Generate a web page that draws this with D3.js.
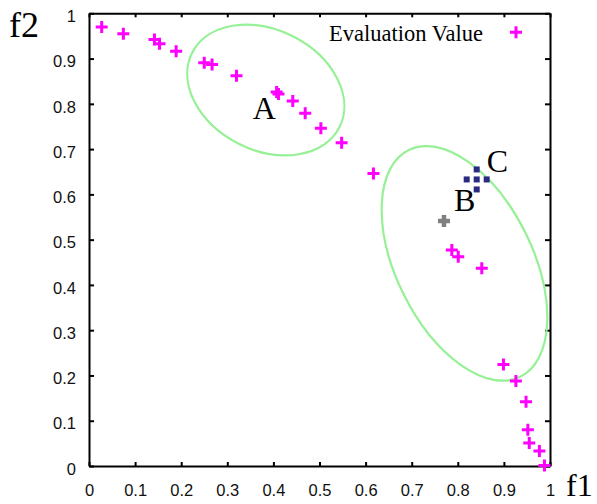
<!DOCTYPE html>
<html>
<head>
<meta charset="utf-8">
<script src="https://cdn.jsdelivr.net/npm/d3@7"></script>
<style>
  body { margin: 0; background: #fff; }
  svg { display: block; }
  .tick text { font-family: "Liberation Sans", Arial, sans-serif; font-size: 16.5px; fill: #111; }
  .serif { font-family: "Liberation Serif", "Times New Roman", serif; fill: #000; }
</style>
</head>
<body>
<svg id="chart" width="597" height="504"></svg>
<script>
// Evaluation values (f1, f2)
const evalF1 = [0.0275, 0.0745, 0.142, 0.153, 0.189, 0.250, 0.267, 0.320, 0.407, 0.411,
                0.442, 0.469, 0.503, 0.548, 0.617, 0.787, 0.801, 0.852, 0.899, 0.926,
                0.948, 0.952, 0.955, 0.977, 0.988];
const evalF2 = [0.970, 0.955, 0.942, 0.933, 0.916, 0.891, 0.887, 0.862, 0.826, 0.822,
                0.806, 0.779, 0.746, 0.714, 0.646, 0.477, 0.462, 0.437, 0.224, 0.188,
                0.142, 0.080, 0.051, 0.033, 0.001];

// highlighted solutions
const pointB = [0.770, 0.541];
const pointC = [0.841, 0.633];

// clusters (centre f1, f2; semi axes; tilt in degrees)
const clusterNames = ["A", "BC"];
const clusterCenters = [[0.3835, 0.8305], [0.8145, 0.4475]];
const clusterAxes = [[0.179, 0.1306], [0.274, 0.148]];
const clusterTilt = [26.7, 63.8];

// annotation labels
const labelNames = ["A", "B", "C"];
const labelPos = [[0.355, 0.7675], [0.792, 0.5636], [0.8627, 0.6497]];

const xTicks = [0, 0.1, 0.2, 0.3, 0.4, 0.5, 0.6, 0.7, 0.8, 0.9, 1];
const xTickLabels = ["0", "0.1", "0.2", "0.3", "0.4", "0.5", "0.6", "0.7", "0.8", "0.9", "1"];
const yTicks = [0, 0.1, 0.2, 0.3, 0.4, 0.5, 0.6, 0.7, 0.8, 0.9, 1];
const yTickLabels = ["0", "0.1", "0.2", "0.3", "0.4", "0.5", "0.6", "0.7", "0.8", "0.9", "1"];

const svg = d3.select('#chart');

const margin = { left: 89, right: 47, top: 13.3, bottom: 38 };
const width = 597 - margin.left - margin.right;
const height = 504 - margin.top - margin.bottom;

const x = d3.scaleLinear().domain([0, 1]).range([margin.left, margin.left + width]);
const y = d3.scaleLinear().domain([0, 1]).range([margin.top + height, margin.top]);

// -------------------------------------------------------------------------
// Axes (ticks inward, border on all sides)
// -------------------------------------------------------------------------
svg.append('g')
    .attr('transform', `translate(0, ${y(0)})`)
    .call(d3.axisBottom(x).tickValues(xTicks).tickFormat((d, i) => xTickLabels[i])
        .tickSizeInner(-4).tickSizeOuter(0).tickPadding(18));

const axisLeft = svg.append('g')
    .attr('transform', `translate(${x(0)}, 0)`)
    .call(d3.axisLeft(y).tickValues(yTicks).tickFormat((d, i) => yTickLabels[i])
        .tickSizeInner(-5).tickSizeOuter(0).tickPadding(13));
axisLeft.selectAll('.tick text').attr('dy', '0.5em');

svg.append('g')
    .attr('transform', `translate(0, ${y(1)})`)
    .call(d3.axisTop(x).tickValues(xTicks).tickFormat('').tickSizeInner(-4).tickSizeOuter(0));

svg.append('g')
    .attr('transform', `translate(${x(1)}, 0)`)
    .call(d3.axisRight(y).tickValues(yTicks).tickFormat('').tickSizeInner(-5).tickSizeOuter(0));

svg.selectAll('.domain').attr('stroke', '#000').attr('stroke-width', 2);
svg.selectAll('.tick line').attr('stroke', '#000').attr('stroke-width', 2);

// -------------------------------------------------------------------------
// Clusters
// -------------------------------------------------------------------------
const unit = x(1) - x(0);
svg.append('g').selectAll('ellipse')
    .data(clusterNames)
    .enter().append('ellipse')
    .attr('cx', (d, i) => x(clusterCenters[i][0]))
    .attr('cy', (d, i) => y(clusterCenters[i][1]))
    .attr('rx', (d, i) => clusterAxes[i][0] * unit)
    .attr('ry', (d, i) => clusterAxes[i][1] * unit)
    .attr('transform', (d, i) => `rotate(${clusterTilt[i]}, ${x(clusterCenters[i][0])}, ${y(clusterCenters[i][1])})`)
    .attr('fill', 'none')
    .attr('stroke', '#96f096')
    .attr('stroke-width', 2.2);

// -------------------------------------------------------------------------
// Points
// -------------------------------------------------------------------------
function plusPath(size, w) {
    const s = size / 2, t = w / 2;
    return `M${-s},${-t}H${-t}V${-s}H${t}V${-t}H${s}V${t}H${t}V${s}H${-t}V${t}H${-s}Z`;
}

svg.append('g').selectAll('path')
    .data(evalF1)
    .enter().append('path')
    .attr('d', plusPath(12, 3))
    .attr('transform', (d, i) => `translate(${x(d)}, ${y(evalF2[i])})`)
    .attr('fill', '#ff00ff');

svg.append('path')
    .attr('d', plusPath(12, 4.5))
    .attr('transform', `translate(${x(pointB[0])}, ${y(pointB[1])})`)
    .attr('fill', '#808080');

const cOffsets = [[0, -10], [-10, 0], [0, 0], [10, 0], [0, 10]];
svg.append('g')
    .attr('transform', `translate(${x(pointC[0])}, ${y(pointC[1])})`)
    .selectAll('rect')
    .data(cOffsets)
    .enter().append('rect')
    .attr('x', d => d[0] - 3)
    .attr('y', d => d[1] - 3)
    .attr('width', 6)
    .attr('height', 6)
    .attr('fill', '#2a2a80');

// -------------------------------------------------------------------------
// Labels
// -------------------------------------------------------------------------
svg.append('g').selectAll('text')
    .data(labelNames)
    .enter().append('text')
    .attr('class', 'serif')
    .attr('x', (d, i) => x(labelPos[i][0]))
    .attr('y', (d, i) => y(labelPos[i][1]))
    .attr('font-size', 32)
    .text(d => d);

svg.append('text').attr('class', 'serif')
    .attr('x', 9).attr('y', 36.7)
    .attr('font-size', 36)
    .text('f2');

svg.append('text').attr('class', 'serif')
    .attr('x', 566).attr('y', 496)
    .attr('font-size', 32)
    .text('f1');

// Legend
const legend = svg.append('g').attr('transform', `translate(${x(1) - 34}, 32.3)`);
legend.append('text').attr('class', 'serif')
    .attr('x', -33).attr('y', 8.4)
    .attr('text-anchor', 'end')
    .attr('font-size', 22.5)
    .text('Evaluation Value');
legend.append('path')
    .attr('d', plusPath(12, 3))
    .attr('fill', '#ff00ff');
</script>
</body>
</html>
